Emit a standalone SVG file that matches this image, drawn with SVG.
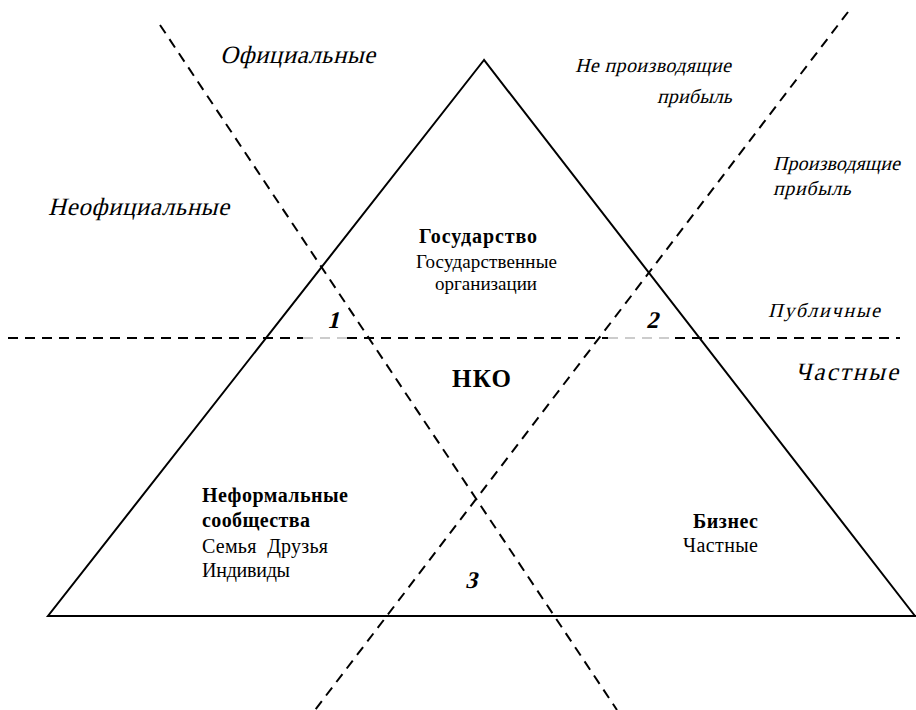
<svg xmlns="http://www.w3.org/2000/svg" width="916" height="710" viewBox="0 0 916 710">
<style>
.t{font-family:"Liberation Serif","Times New Roman",serif;fill:#000}
.b{font-weight:bold}
.solid{fill:none;stroke:#000;stroke-width:2}
.dash{fill:none;stroke:#000;stroke-width:2;stroke-dasharray:10 7}
.thin{fill:none;stroke:#999;stroke-width:1;stroke-dasharray:10 7}
</style>
<rect width="916" height="710" fill="#fff"/>
<g id="connectors">
<polygon class="solid" points="484,60 48,616 915,616"/>
<line class="solid" x1="48" y1="616" x2="916" y2="616"/>
<line class="dash" x1="8" y1="338" x2="303" y2="338"/>
<line class="thin" x1="303" y1="338" x2="347" y2="338"/>
<line class="dash" x1="347" y1="338" x2="608" y2="338"/>
<line class="thin" x1="608" y1="338" x2="675" y2="338"/>
<line class="dash" x1="675" y1="338" x2="900" y2="338"/>
<line class="dash" x1="160" y1="25" x2="617" y2="710"/>
<line class="dash" x1="848" y1="12" x2="315" y2="710"/>
</g>
<g id="labels-axes">
<text class="t" transform="translate(220,63) skewX(-14)" font-size="25" textLength="155">Официальные</text>
<text class="t" transform="translate(48,215) skewX(-14)" font-size="25" textLength="181">Неофициальные</text>
<text class="t" transform="translate(575,72) skewX(-14)" font-size="20" textLength="156">Не производящие</text>
<text class="t" transform="translate(657,103) skewX(-14)" font-size="20" textLength="75">прибыль</text>
<text class="t" transform="translate(773,170) skewX(-14)" font-size="20" textLength="127">Производящие</text>
<text class="t" transform="translate(773,195) skewX(-14)" font-size="20" textLength="78">прибыль</text>
<text class="t" transform="translate(768,317) skewX(-14)" font-size="20" textLength="112">Публичные</text>
<text class="t" transform="translate(795,380) skewX(-14)" font-size="25" textLength="103">Частные</text>
</g>
<g id="node-state">
<text class="t b" x="419" y="243" font-size="20" textLength="118">Государство</text>
<text class="t" x="416" y="268" font-size="19" textLength="141">Государственные</text>
<text class="t" x="486" y="290" font-size="19" text-anchor="middle">организации</text>
</g>
<g id="node-nko">
<text class="t b" x="452" y="387" font-size="25" textLength="59">НКО</text>
</g>
<g id="node-informal">
<text class="t b" x="202" y="502" font-size="20" textLength="146">Неформальные</text>
<text class="t b" x="202" y="527" font-size="20" textLength="108">сообщества</text>
<text class="t" x="202" y="553" font-size="20" xml:space="preserve" textLength="126">Семья  Друзья</text>
<text class="t" x="202" y="577" font-size="20" textLength="88">Индивиды</text>
</g>
<g id="node-business">
<text class="t b" x="693" y="528" font-size="20" textLength="65">Бизнес</text>
<text class="t" x="683" y="552" font-size="20" textLength="75">Частные</text>
</g>
<g id="zones">
<text class="t b" transform="translate(327,328) skewX(-14)" font-size="24">1</text>
<text class="t b" transform="translate(646,328) skewX(-14)" font-size="24">2</text>
<text class="t b" transform="translate(465,588) skewX(-14)" font-size="24">3</text>
</g>
</svg>
